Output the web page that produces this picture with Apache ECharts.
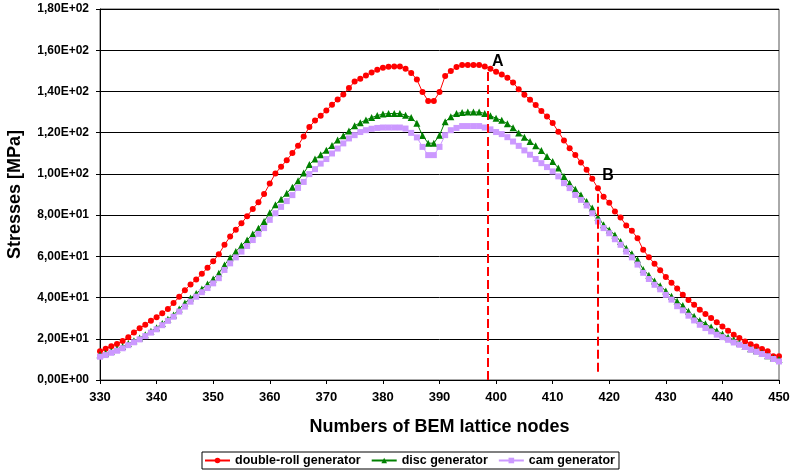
<!DOCTYPE html>
<html>
<head>
<meta charset="utf-8">
<script src="https://cdn.jsdelivr.net/npm/echarts@6/dist/echarts.min.js"></script>
<style>
  html, body { margin: 0; padding: 0; background: #fff; }
  #chart { width: 791px; height: 474px; }
</style>
</head>
<body>
<div id="chart"></div>
<script>
// node numbers start at 330, one value per node up to 450
const firstNode = 330;

const doubleRoll = [
  14.0, 15.2, 16.4, 17.5, 18.9, 20.8, 23.0, 25.1, 26.8, 28.7,
  30.5, 32.4, 34.5, 37.3, 40.4, 43.6, 46.3, 48.8, 51.5, 54.5,
  57.6, 61.0, 65.6, 69.6, 72.9, 76.0, 79.5, 83.0, 86.2, 90.2,
  95.3, 100.2, 103.5, 106.6, 110.1, 113.7, 118.2, 122.7, 125.9, 128.2,
  130.8, 133.5, 136.1, 138.5, 141.7, 144.8, 146.1, 147.7, 149.2, 150.5,
  151.5, 152.0, 152.1, 152.1, 151.0, 149.0, 145.8, 139.7, 135.4, 135.4,
  139.7, 147.5, 149.9, 151.8, 152.8, 152.8, 152.8, 152.8, 152.1, 151.0,
  149.5, 148.2, 146.7, 144.3, 141.1, 138.4, 136.0, 133.4, 130.5, 127.8,
  124.7, 120.5, 116.2, 112.5, 109.2, 105.5, 102.0, 97.6, 93.0, 88.9,
  86.0, 81.7, 78.8, 75.0, 72.4, 68.8, 63.2, 59.6, 56.4, 53.3,
  50.0, 47.2, 44.4, 41.4, 38.8, 36.5, 34.1, 32.0, 30.1, 28.0,
  26.0, 23.9, 22.0, 20.4, 18.7, 17.4, 16.3, 15.0, 13.9, 11.5,
  11.5
];

const disc = [
  12.3, 13.0, 14.0, 15.0, 16.2, 17.7, 19.0, 20.4, 22.0, 23.7,
  25.4, 27.4, 29.5, 31.5, 34.5, 37.3, 39.8, 42.0, 44.2, 46.6,
  49.0, 51.8, 55.8, 59.3, 62.3, 65.2, 67.9, 70.8, 73.6, 76.9,
  81.2, 85.0, 87.7, 90.6, 93.5, 96.7, 100.4, 104.5, 107.2, 109.3,
  111.5, 113.8, 116.4, 118.5, 120.8, 123.4, 124.8, 126.2, 127.3, 128.3,
  129.0, 129.3, 129.3, 129.3, 128.5, 127.3, 124.6, 118.6, 114.9, 114.9,
  118.8, 125.3, 127.7, 129.3, 129.8, 130.0, 130.0, 130.0, 129.3, 128.2,
  127.0, 126.0, 124.3, 122.4, 119.8, 117.8, 115.7, 113.6, 111.3, 108.4,
  106.0, 102.8, 98.7, 95.5, 92.6, 89.8, 86.6, 83.4, 79.0, 75.3,
  72.8, 70.4, 67.2, 63.9, 61.2, 58.3, 53.6, 50.8, 48.0, 45.7,
  43.2, 40.6, 38.2, 36.1, 33.3, 30.9, 28.9, 27.3, 25.7, 23.9,
  22.3, 20.8, 19.5, 17.9, 16.3, 15.2, 14.2, 13.1, 11.8, 10.7,
  9.9
];

const cam = [
  11.3, 12.1, 13.2, 14.2, 15.4, 16.9, 18.3, 19.7, 21.3, 23.0,
  24.6, 26.6, 28.7, 30.7, 33.2, 35.6, 38.0, 40.4, 42.6, 44.6,
  46.9, 49.4, 53.4, 56.6, 59.5, 62.3, 65.0, 67.9, 70.9, 73.7,
  77.7, 80.9, 84.0, 86.8, 89.7, 93.2, 96.1, 99.9, 102.3, 105.0,
  107.2, 109.9, 112.3, 114.8, 117.2, 118.8, 120.3, 121.2, 121.9, 122.3,
  122.5, 122.5, 122.5, 122.5, 122.0, 119.9, 117.7, 113.1, 109.1, 109.1,
  113.1, 118.8, 121.2, 122.3, 123.2, 123.2, 123.2, 123.2, 122.5, 121.6,
  120.3, 119.3, 117.8, 115.7, 113.6, 111.4, 109.3, 107.2, 105.2, 103.3,
  101.2, 98.8, 95.5, 93.1, 89.8, 87.4, 84.7, 80.9, 76.9, 73.7,
  71.2, 68.3, 65.6, 62.3, 59.5, 56.0, 52.0, 49.0, 46.2, 44.0,
  41.3, 39.0, 35.8, 33.8, 31.2, 28.9, 26.8, 25.2, 23.6, 22.0,
  20.8, 19.5, 18.2, 17.1, 16.0, 14.7, 13.7, 12.6, 11.5, 10.2,
  9.0
];

// section lines A and B: [node, bottom stress, top stress]
const sectionA = [398.5, 0, 150];
const sectionB = [418, 4, 92];
// where the letters sit: [node, stress]
const labelA = [400.3, 154.5];
const labelB = [419.8, 99];

const FONT = "'Liberation Sans', Arial, sans-serif";

function pairs(values) {
  return values.map((v, i) => [firstNode + i, v]);
}

// Excel style: 1,20E+02
function sciLabel(v) {
  if (v === 0) return "0,00E+00";
  const exp = Math.floor(Math.log10(Math.abs(v)) + 1e-9);
  const mant = (v / Math.pow(10, exp)).toFixed(2).replace(".", ",");
  const sign = exp < 0 ? "-" : "+";
  return mant + "E" + sign + String(Math.abs(exp)).padStart(2, "0");
}

const chart = echarts.init(document.getElementById("chart"));

const option = {
  animation: false,
  textStyle: { fontFamily: FONT },
  grid: {
    left: 100,
    right: 12,
    top: 9,
    bottom: 94,
    outerBoundsMode: "none",
    containLabel: false,
    show: true,
    borderColor: "#555",
    borderWidth: 1,
  },
  legend: {
    left: 202,
    top: 452,
    itemWidth: 25,
    itemHeight: 7,
    itemGap: 10,
    borderColor: "#000",
    borderWidth: 1,
    padding: [2, 4, 2, 2],
    textStyle: { fontFamily: FONT, fontWeight: "bold", fontSize: 12.5, color: "#000" },
    data: ["double-roll generator", "disc generator", "cam generator"],
  },
  xAxis: {
    type: "value",
    min: 330,
    max: 450,
    interval: 10,
    name: "Numbers of BEM lattice nodes",
    nameLocation: "middle",
    nameGap: 38,
    nameTextStyle: { fontFamily: FONT, fontWeight: "bold", fontSize: 18, color: "#000" },
    axisLine: { lineStyle: { color: "#000", width: 1 } },
    axisTick: { show: true, length: 4, lineStyle: { color: "#000" } },
    axisLabel: { margin: 11, fontFamily: FONT, fontWeight: "bold", fontSize: 13, color: "#000" },
    splitLine: { show: false },
  },
  yAxis: {
    type: "value",
    min: 0,
    max: 180,
    interval: 20,
    name: "Stresses [MPa]",
    nameLocation: "middle",
    nameRotate: 90,
    nameGap: 76,
    nameTextStyle: { fontFamily: FONT, fontWeight: "bold", fontSize: 18, color: "#000" },
    axisLine: { show: true, lineStyle: { color: "#000", width: 1 } },
    axisTick: { show: true, length: 4, lineStyle: { color: "#000" } },
    axisLabel: {
      margin: 11,
      fontFamily: FONT,
      fontWeight: "bold",
      fontSize: 12,
      color: "#000",
      formatter: sciLabel,
    },
    splitLine: { show: true, lineStyle: { color: "#000", width: 1 } },
  },
  series: [
    {
      name: "double-roll generator",
      type: "line",
      data: pairs(doubleRoll),
      symbol: "circle",
      symbolSize: 6,
      color: "#ff0000",
      lineStyle: { width: 1, color: "#ff0000" },
      itemStyle: { color: "#ff0000" },
      markLine: {
        silent: true,
        symbol: ["none", "none"],
        label: { show: false },
        lineStyle: { color: "#ff0000", width: 2, type: [9, 4] },
        emphasis: { disabled: true },
        data: [
          [{ coord: [sectionA[0], sectionA[1]] }, { coord: [sectionA[0], sectionA[2]] }],
          [{ coord: [sectionB[0], sectionB[1]] }, { coord: [sectionB[0], sectionB[2]] }],
        ],
      },
      markPoint: {
        silent: true,
        symbol: "circle",
        symbolSize: 0,
        label: {
          show: true,
          position: "inside",
          formatter: "{b}",
          color: "#000",
          fontFamily: FONT,
          fontWeight: "bold",
          fontSize: 16,
        },
        data: [
          { name: "A", coord: labelA },
          { name: "B", coord: labelB },
        ],
      },
    },
    {
      name: "disc generator",
      type: "line",
      data: pairs(disc),
      symbol: "triangle",
      symbolSize: 7,
      color: "#008000",
      lineStyle: { width: 1, color: "#008000" },
      itemStyle: { color: "#008000" },
    },
    {
      name: "cam generator",
      type: "line",
      data: pairs(cam),
      symbol: "rect",
      symbolSize: 6,
      color: "#cc99ff",
      lineStyle: { width: 1, color: "#cc99ff" },
      itemStyle: { color: "#cc99ff" },
    },
  ],
};

chart.setOption(option);
</script>
</body>
</html>
